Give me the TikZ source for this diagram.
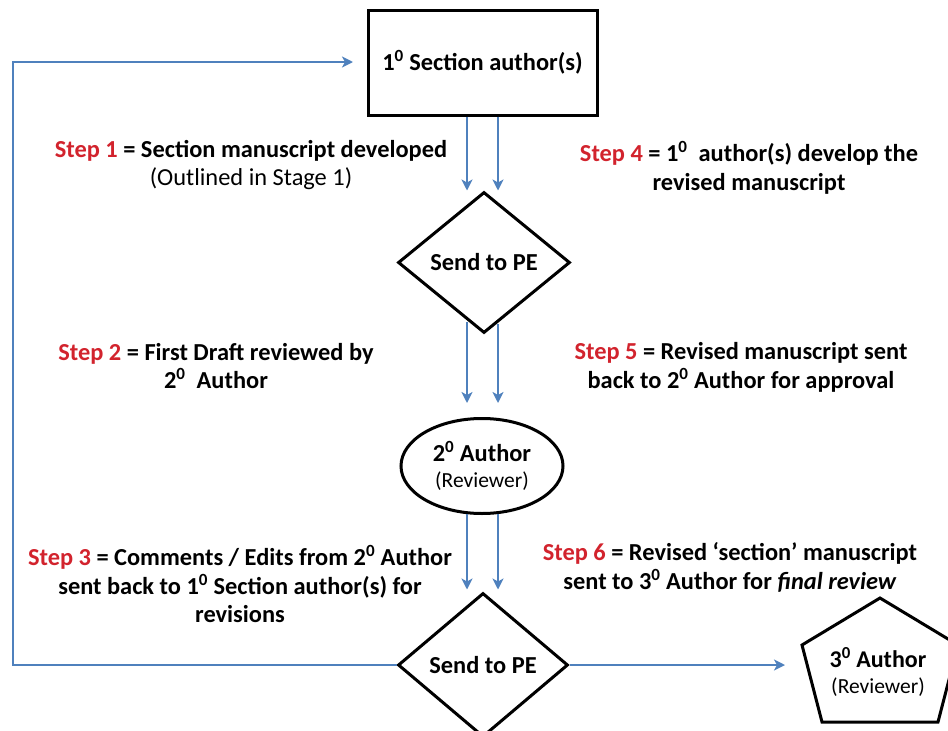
\documentclass[tikz,border=0pt]{standalone}
\usepackage{fontspec}
\setmainfont{Carlito}
\usetikzlibrary{shapes.geometric,arrows.meta,calc}
\definecolor{stepred}{RGB}{210,35,45}
\definecolor{arrowblue}{RGB}{79,129,189}
\newcommand\revfnt{\mdseries\fontsize{21.5}{24}\selectfont}
\newcommand\stp[1]{\textcolor{stepred}{Step #1}}
\begin{document}
\begin{tikzpicture}[x=1pt,y=-1pt,
  shapebox/.style={draw=black, line width=3pt, font=\bfseries\fontsize{24.4}{27}\selectfont, inner sep=0pt, align=center},
  arr/.style={draw=arrowblue, line width=2.5pt, line join=miter, -{Stealth[length=11pt,width=11pt,inset=3pt]}},
  steptext/.style={align=center, font=\bfseries\fontsize{24.4}{28.7}\selectfont, inner sep=0pt}]
\useasboundingbox (0,0) rectangle (948,731);
\clip (0,0) rectangle (948,731);

% shapes
\node[shapebox, rectangle, minimum width=229pt, minimum height=105pt] (box) at (482.5,62.5) {1\textsuperscript{0} Section author(s)};
\node[shapebox, diamond, minimum width=172pt, minimum height=141pt] (d1) at (484,262.5) {Send to PE};
\node[shapebox, ellipse, minimum width=162pt, minimum height=95pt] (ell) at (482,466) {2\textsuperscript{0} Author\\[-1pt]{\revfnt (Reviewer)}};
\node[shapebox, diamond, minimum width=170pt, minimum height=144pt] (d2) at (483,665) {Send to PE};
\draw[line width=3pt, line join=miter] (880,598) -- (802,645) -- (822,722) -- (938,722) -- (958,645) -- cycle;
\node[align=center, inner sep=0pt, font=\bfseries\fontsize{24}{27}\selectfont] (a3) at (878,672) {3\textsuperscript{0} Author\\[-1pt]{\revfnt (Reviewer)}};

% connectors
\draw[arr] ($(box.south)+(-15.5,0)$) -- ($(d1.north)+(-17,0)$);
\draw[arr] ($(box.south)+(15.5,0)$) -- ($(d1.north)+(14,0)$);
\draw[arr] ($(d1.south)+(-17,-13)$) -- ($(ell.north)+(-15,-14)$);
\draw[arr] ($(d1.south)+(14,-11)$) -- ($(ell.north)+(16,-14)$);
\draw[arr] ($(ell.south)+(-15,-1)$) -- ($(d2.north)+(-16,-2)$);
\draw[arr] ($(ell.south)+(16,-1)$) -- ($(d2.north)+(15,-2)$);

\coordinate (c1) at (13,665);
\coordinate (c2) at (13,62);
\coordinate (c3) at (353,62);
\coordinate (c4) at (785,665);
\draw[arr] (d2.west) -- (c1) -- (c2) -- (c3);
\draw[arr] (d2.east) -- (c4);

% step texts
\node[steptext] (s1) at (251,165) {\stp{1} = Section manuscript developed\\{\mdseries (Outlined in Stage 1)}};
\node[steptext] (s2) at (216,366) {\stp{2} = First Draft reviewed by\\2\textsuperscript{0}\ \ Author};
\node[steptext] (s3) at (240,584) {\stp{3} = Comments / Edits from 2\textsuperscript{0} Author\\sent back to 1\textsuperscript{0} Section author(s) for\\revisions};
\node[steptext] (s4) at (749,167.5) {\stp{4} = 1\textsuperscript{0}\ \ author(s) develop the\\revised manuscript};
\node[steptext] (s5) at (741,367.5) {\stp{5} = Revised manuscript sent\\back to 2\textsuperscript{0} Author for approval};
\node[steptext] (s6) at (730,567.5) {\stp{6} = Revised ‘section’ manuscript\\sent to 3\textsuperscript{0} Author for \textit{final review}};
\end{tikzpicture}
\end{document}
